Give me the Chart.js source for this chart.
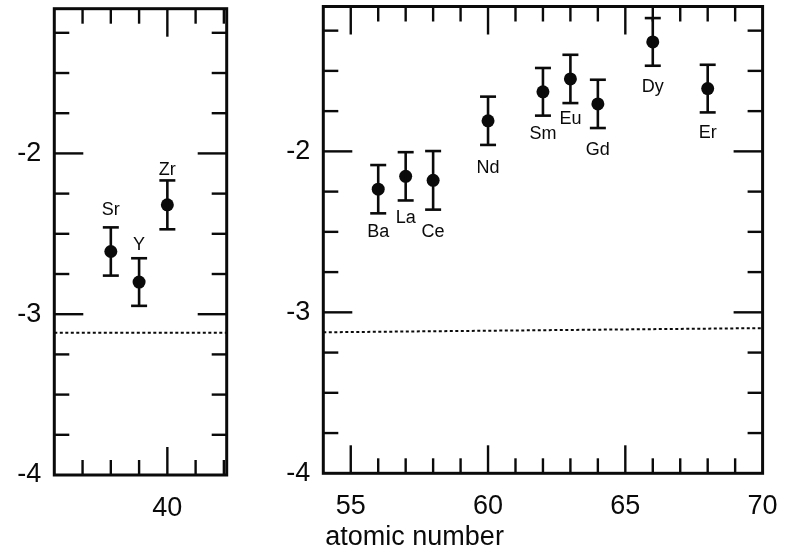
<!DOCTYPE html>
<html>
<head>
<meta charset="utf-8">
<script src="https://cdn.jsdelivr.net/npm/chart.js@4.4.1/dist/chart.umd.min.js"></script>
<style>
  html, body { margin: 0; padding: 0; background: #fff; }
  #wrap { position: relative; width: 786px; height: 549px; }
  canvas { position: absolute; top: 0; }
</style>
</head>
<body>
<div id="wrap">
  <canvas id="chart-left" width="250" height="549" style="left:0"></canvas>
  <canvas id="chart-right" width="536" height="549" style="left:250px"></canvas>
</div>
<script>
// ---- data ----
const leftZ = [38, 39, 40];
const leftElements = ['Sr', 'Y', 'Zr'];
const leftValues = [-2.61, -2.80, -2.32];
const leftErrors = [0.15, 0.148, 0.152];

const rightZ = [56, 57, 58, 60, 62, 63, 64, 66, 68];
const rightElements = ['Ba', 'La', 'Ce', 'Nd', 'Sm', 'Eu', 'Gd', 'Dy', 'Er'];
const rightValues = [-2.235, -2.155, -2.18, -1.81, -1.63, -1.55, -1.705, -1.32, -1.61];
const rightErrors = [0.15, 0.15, 0.182, 0.15, 0.148, 0.15, 0.15, 0.148, 0.148];

// dotted reference level (ends of the line in each panel)
const dottedLeftZ = [36, 42.1];
const dottedLeftY = [-3.115, -3.115];
const dottedRightZ = [54, 70];
const dottedRightY = [-3.124, -3.098];

const yMin = -4;
const yMax = -1.1;
const xTitle = 'atomic number';

const INK = '#0a0a0a';
const FONT = "'Liberation Sans', Arial, Helvetica, sans-serif";

// draws frame, inward ticks, error bars and element labels
const panelPlugin = {
  id: 'panel',
  afterDatasetsDraw(chart, args, opts) {
    const { ctx, chartArea: a, scales: { x, y } } = chart;
    const line = (x1, y1, x2, y2) => {
      ctx.beginPath(); ctx.moveTo(x1, y1); ctx.lineTo(x2, y2); ctx.stroke();
    };
    ctx.save();
    ctx.strokeStyle = INK;
    ctx.fillStyle = INK;

    // error bars
    ctx.lineWidth = 2.6;
    ctx.font = '18px ' + FONT;
    ctx.textAlign = 'center';
    ctx.textBaseline = 'middle';
    opts.z.forEach((z, i) => {
      const px = x.getPixelForValue(z);
      const top = y.getPixelForValue(opts.values[i] + opts.errors[i]);
      const bot = y.getPixelForValue(opts.values[i] - opts.errors[i]);
      line(px, top, px, bot);
      line(px - 8, top, px + 8, top);
      line(px - 8, bot, px + 8, bot);
      const dy = opts.labelDy[i];
      ctx.fillText(opts.names[i], px, (dy < 0 ? top : bot) + dy);
    });

    // inward ticks on all four sides
    ctx.lineWidth = 2.4;
    x.ticks.forEach(t => {
      const v = t.value;
      if (Math.abs(v - Math.round(v)) > 1e-6) return;
      const px = x.getPixelForValue(v);
      if (px <= a.left + 1 || px >= a.right - 1) return;
      const len = Math.round(v) % 5 === 0 ? 28 : 15;
      line(px, a.bottom, px, a.bottom - len);
      line(px, a.top, px, a.top + len);
    });
    y.ticks.forEach(t => {
      const v = t.value;
      if (Math.abs(v * 4 - Math.round(v * 4)) > 1e-6) return;
      const py = y.getPixelForValue(v);
      if (py <= a.top + 1 || py >= a.bottom - 1) return;
      const len = Number.isInteger(v) ? 29 : 15;
      line(a.left, py, a.left + len, py);
      line(a.right, py, a.right - len, py);
    });

    // frame
    ctx.lineWidth = 3;
    ctx.strokeRect(a.left, a.top, a.right - a.left, a.bottom - a.top);

    // axis title
    if (opts.title) {
      ctx.font = '27px ' + FONT;
      ctx.textAlign = 'left';
      ctx.textBaseline = 'alphabetic';
      ctx.fillText(opts.title, a.left + 2, 545);
    }
    ctx.restore();
  }
};

function makePanel(id, cfg) {
  const tickFont = { family: FONT, size: 27 };
  return new Chart(document.getElementById(id), {
    type: 'scatter',
    data: {
      datasets: [
        {
          type: 'line',
          data: cfg.dottedZ.map((z, i) => ({ x: z, y: cfg.dottedY[i] })),
          borderColor: INK,
          borderWidth: 2,
          borderDash: [3, 2.5],
          pointRadius: 0,
          fill: false
        },
        {
          data: cfg.z.map((z, i) => ({ x: z, y: cfg.values[i] })),
          backgroundColor: INK,
          borderWidth: 0,
          pointRadius: 6.5
        }
      ]
    },
    options: {
      responsive: false,
      animation: false,
      events: [],
      layout: { padding: { left: 0, top: cfg.padTop, right: cfg.padRight, bottom: 0 } },
      plugins: {
        legend: { display: false },
        tooltip: { enabled: false },
        panel: {
          z: cfg.z, values: cfg.values, errors: cfg.errors,
          names: cfg.names, labelDy: cfg.labelDy, title: cfg.title
        }
      },
      scales: {
        x: {
          type: 'linear',
          min: cfg.xMin,
          max: cfg.xMax,
          grid: { display: false, drawTicks: false },
          border: { display: false },
          ticks: {
            stepSize: 1,
            includeBounds: false,
            autoSkip: false,
            maxRotation: 0,
            padding: 17,
            color: INK,
            font: tickFont,
            callback: v => (Number.isInteger(v) && v % 5 === 0) ? String(v) : ''
          },
          afterFit: s => { s.height = cfg.xHeight; s.paddingLeft = 0; s.paddingRight = 0; }
        },
        y: {
          type: 'linear',
          min: yMin,
          max: yMax,
          grid: { display: false, drawTicks: false },
          border: { display: false },
          ticks: {
            stepSize: 0.25,
            includeBounds: false,
            autoSkip: false,
            padding: 13,
            color: INK,
            font: tickFont,
            callback: v => Number.isInteger(v) ? String(v) : ''
          },
          afterFit: s => { s.width = cfg.yWidth; s.paddingTop = 0; s.paddingBottom = 0; }
        }
      }
    },
    plugins: [panelPlugin]
  });
}

makePanel('chart-left', {
  z: leftZ, values: leftValues, errors: leftErrors, names: leftElements,
  labelDy: [-17, -13, -10],
  dottedZ: dottedLeftZ, dottedY: dottedLeftY,
  xMin: 36, xMax: 42.1,
  yWidth: 54.3, xHeight: 74, padTop: 8.7, padRight: 23.3
});

makePanel('chart-right', {
  z: rightZ, values: rightValues, errors: rightErrors, names: rightElements,
  labelDy: [19, 17.5, 22, 23, 18.5, 15.5, 22, 21.5, 21],
  dottedZ: dottedRightZ, dottedY: dottedRightY,
  xMin: 54, xMax: 70,
  yWidth: 73.3, xHeight: 75.7, padTop: 6.3, padRight: 23.4,
  title: xTitle
});
</script>
</body>
</html>
